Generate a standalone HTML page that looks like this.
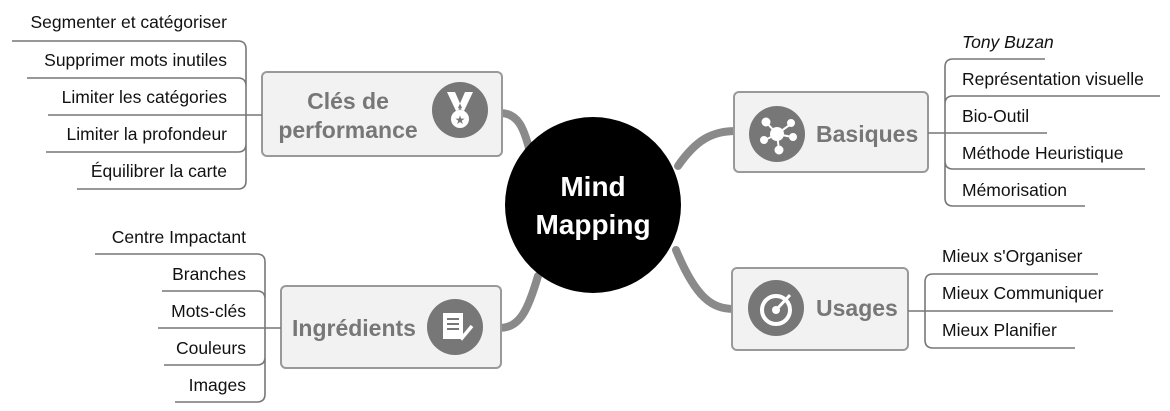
<!DOCTYPE html>
<html><head><meta charset="utf-8"><style>
body{margin:0;background:#fff;}
svg{display:block;}
text{font-family:"Liberation Sans",sans-serif;}
.l{font-size:17.5px;fill:#111;}
.t{font-size:23px;font-weight:bold;fill:#777;}
.ln{stroke:#777;stroke-width:1.6;fill:none;}
.c{stroke:#8a8a8a;stroke-width:8;fill:none;stroke-linecap:round;}
</style></head><body>
<svg width="1170" height="411" viewBox="0 0 1170 411">
<!-- main connectors -->
<path class="c" d="M500 113 C518 113 524 128 530 152"/>
<path class="c" d="M736 131 C712 131 696 140 678 166"/>
<path class="c" d="M499 328 C520 328 528 310 538 276"/>
<path class="c" d="M734 309 C712 309 696 298 676 250"/>
<circle cx="593" cy="205" r="88" fill="#000"/>
<text x="593" y="196" text-anchor="middle" font-size="28" font-weight="bold" fill="#fff">Mind</text>
<text x="593" y="234" text-anchor="middle" font-size="28" font-weight="bold" fill="#fff">Mapping</text>

<!-- boxes -->
<g fill="#f2f2f2" stroke="#999" stroke-width="2">
<rect x="262" y="72" width="240" height="84" rx="5"/>
<rect x="734" y="92" width="194" height="80" rx="5"/>
<rect x="281" y="286" width="220" height="82" rx="5"/>
<rect x="732" y="268" width="176" height="82" rx="5"/>
</g>
<text class="t" x="348" y="109" text-anchor="middle">Clés de</text>
<text class="t" x="348" y="138" text-anchor="middle">performance</text>
<circle cx="460" cy="110" r="28" fill="#777"/>
<path d="M447 92 L455 92 L462 108 L456 111Z M473 92 L465 92 L458 108 L464 111Z" fill="#fff"/>
<circle cx="460" cy="119" r="9" fill="#fff"/>
<text x="460" y="124" text-anchor="middle" font-size="12" fill="#777">★</text>

<circle cx="777" cy="134" r="28" fill="#777"/>
<g stroke="#fff" stroke-width="2" fill="#fff">
<line x1="777" y1="134" x2="766" y2="122"/><line x1="777" y1="134" x2="791" y2="124"/><line x1="777" y1="134" x2="792" y2="137"/><line x1="777" y1="134" x2="765" y2="140"/><line x1="777" y1="134" x2="779" y2="150"/>
<circle cx="777" cy="134" r="6"/><circle cx="766" cy="122" r="3.5"/><circle cx="791" cy="123" r="3"/><circle cx="793" cy="137" r="3"/><circle cx="764" cy="140" r="3"/><circle cx="779" cy="150" r="3.5"/>
</g>
<text class="t" x="816" y="142">Basiques</text>

<text class="t" x="292" y="336">Ingrédients</text>
<circle cx="455" cy="327" r="28" fill="#777"/>
<rect x="443" y="313" width="20" height="26" fill="#fff"/>
<g stroke="#777" stroke-width="2"><line x1="447" y1="319" x2="459" y2="319"/><line x1="447" y1="324" x2="459" y2="324"/><line x1="447" y1="329" x2="459" y2="329"/></g>
<path d="M457 332 L462 338 L472 326" stroke="#fff" stroke-width="3.5" fill="none"/>

<circle cx="776" cy="308" r="28" fill="#777"/>
<circle cx="776" cy="310" r="14" fill="none" stroke="#fff" stroke-width="4"/>
<circle cx="776" cy="310" r="4" fill="#fff"/>
<line x1="776" y1="310" x2="790" y2="295" stroke="#fff" stroke-width="3"/>
<text class="t" x="816" y="316">Usages</text>

<!-- top-left leaves -->
<path class="ln" d="M12 41 L238 41 Q246 41 246 49 L246 181 Q246 189 238 189 L77 189 M27 78 L238 78 Q246 78 246 86 M48 115 L262 115 M46 152 L238 152 Q246 152 246 144"/>
<g class="l" text-anchor="end">
<text x="227" y="28">Segmenter et catégoriser</text>
<text x="227" y="66">Supprimer mots inutiles</text>
<text x="227" y="103">Limiter les catégories</text>
<text x="227" y="140">Limiter la profondeur</text>
<text x="227" y="177">Équilibrer la carte</text>
</g>

<!-- bottom-left leaves -->
<path class="ln" d="M95 254 L257 254 Q265 254 265 262 L265 394 Q265 402 257 402 L175 402 M162 291 L257 291 Q265 291 265 299 M158 328 L281 328 M164 365 L257 365 Q265 365 265 357"/>
<g class="l" text-anchor="end">
<text x="246" y="243">Centre Impactant</text>
<text x="246" y="280">Branches</text>
<text x="246" y="317">Mots-clés</text>
<text x="246" y="354">Couleurs</text>
<text x="246" y="391">Images</text>
</g>

<!-- top-right leaves -->
<path class="ln" d="M1045 59 L953 59 Q945 59 945 67 L945 198 Q945 206 953 206 L1085 206 M1160 96 L953 96 Q945 96 945 104 M928 133 L1047 133 M1145 169 L953 169 Q945 169 945 161"/>
<g class="l">
<text x="962" y="48" font-style="italic">Tony Buzan</text>
<text x="962" y="85">Représentation visuelle</text>
<text x="962" y="122">Bio-Outil</text>
<text x="962" y="159">Méthode Heuristique</text>
<text x="962" y="196">Mémorisation</text>
</g>

<!-- bottom-right leaves -->
<path class="ln" d="M1098 274 L933 274 Q925 274 925 282 L925 340 Q925 348 933 348 L1075 348 M908 311 L1113 311"/>
<g class="l">
<text x="942" y="262">Mieux s'Organiser</text>
<text x="942" y="299">Mieux Communiquer</text>
<text x="942" y="336">Mieux Planifier</text>
</g>
</svg>
</body></html>
